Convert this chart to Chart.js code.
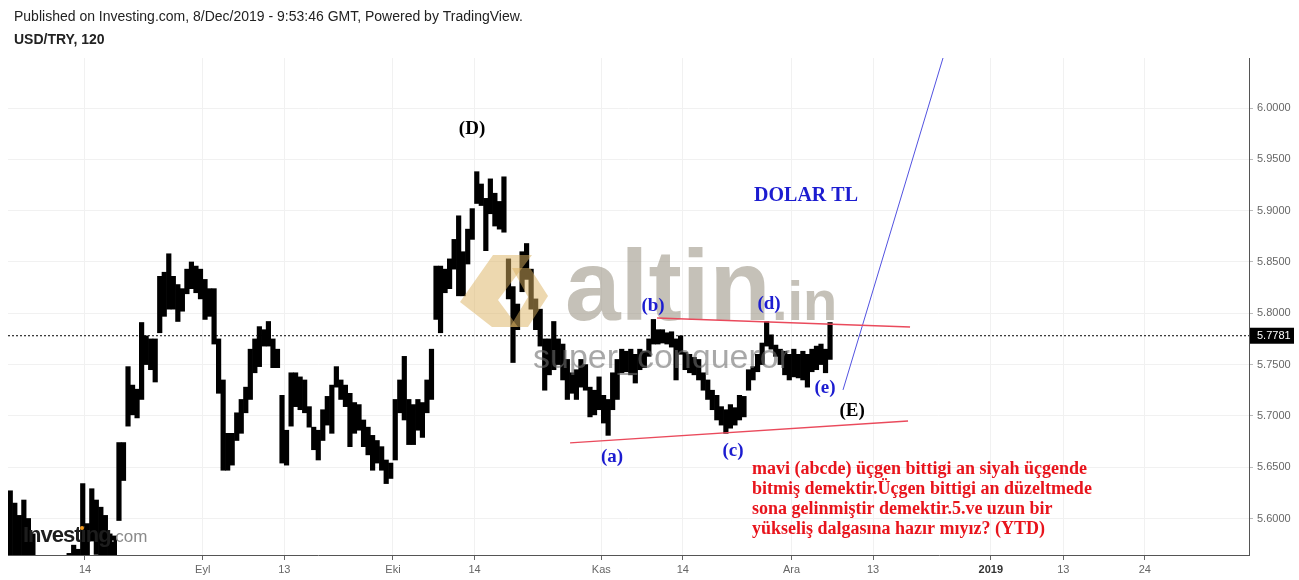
<!DOCTYPE html>
<html lang="tr">
<head>
<meta charset="UTF-8">
<title>USD/TRY, 120</title>
<script src="https://cdn.jsdelivr.net/npm/chart.js"></script>
<style>
  html, body { margin: 0; padding: 0; background: #fff; }
  #wrap { width: 1299px; height: 580px; position: relative; }
</style>
</head>
<body>
<div id="wrap"><canvas id="usdTry"></canvas></div>
<script>
// USD/TRY, 120 - price bars, one bar per half trading day
const lastClose = 5.7781;
const barStart = 0.75;   // trading-day index of the first bar (days counted from 1 Aug 2019)
const barStep = 0.5;

const barHighs = [
  5.627, 5.615, 5.603, 5.618, 5.600, 5.585, 5.558, 5.556, 5.554, 5.552,
  5.555, 5.557, 5.559, 5.566, 5.574, 5.570, 5.634, 5.595, 5.629, 5.618,
  5.611, 5.603, 5.585, 5.583, 5.674, 5.674, 5.748, 5.730, 5.726, 5.791,
  5.778, 5.775, 5.775, 5.836, 5.840, 5.858, 5.836, 5.828, 5.824, 5.843,
  5.850, 5.846, 5.843, 5.833, 5.824, 5.824, 5.775, 5.735, 5.683, 5.683,
  5.703, 5.716, 5.728, 5.765, 5.775, 5.787, 5.784, 5.792, 5.775, 5.765,
  5.720, 5.686, 5.742, 5.742, 5.738, 5.735, 5.709, 5.689, 5.686, 5.706,
  5.719, 5.730, 5.748, 5.735, 5.730, 5.722, 5.713, 5.711, 5.696, 5.689,
  5.681, 5.676, 5.670, 5.657, 5.654, 5.716, 5.735, 5.758, 5.716, 5.711,
  5.716, 5.713, 5.735, 5.765, 5.846, 5.846, 5.843, 5.853, 5.872, 5.895,
  5.860, 5.882, 5.902, 5.938, 5.926, 5.912, 5.931, 5.917, 5.909, 5.933,
  5.853, 5.826, 5.809, 5.860, 5.868, 5.843, 5.814, 5.804, 5.775, 5.775,
  5.792, 5.775, 5.770, 5.755, 5.742, 5.745, 5.755, 5.750, 5.728, 5.725,
  5.738, 5.720, 5.716, 5.742, 5.755, 5.765, 5.763, 5.765, 5.760, 5.765,
  5.763, 5.775, 5.794, 5.784, 5.784, 5.781, 5.782, 5.775, 5.778, 5.762,
  5.760, 5.757, 5.755, 5.742, 5.735, 5.725, 5.720, 5.709, 5.706, 5.711,
  5.708, 5.720, 5.719, 5.745, 5.748, 5.760, 5.771, 5.792, 5.779, 5.769,
  5.765, 5.763, 5.760, 5.765, 5.760, 5.763, 5.760, 5.765, 5.768, 5.770,
  5.765, 5.791
];
const barLows = [
  5.550, 5.550, 5.550, 5.550, 5.550, 5.550, 5.535, 5.532, 5.530, 5.528,
  5.530, 5.533, 5.536, 5.545, 5.550, 5.550, 5.550, 5.550, 5.578, 5.565,
  5.550, 5.550, 5.550, 5.550, 5.598, 5.637, 5.690, 5.701, 5.698, 5.716,
  5.750, 5.745, 5.733, 5.781, 5.797, 5.804, 5.804, 5.792, 5.802, 5.819,
  5.824, 5.820, 5.814, 5.794, 5.797, 5.770, 5.722, 5.647, 5.647, 5.652,
  5.676, 5.683, 5.703, 5.716, 5.742, 5.748, 5.768, 5.768, 5.747, 5.747,
  5.654, 5.652, 5.690, 5.709, 5.706, 5.703, 5.689, 5.667, 5.657, 5.676,
  5.691, 5.683, 5.728, 5.716, 5.709, 5.670, 5.683, 5.686, 5.670, 5.662,
  5.647, 5.654, 5.647, 5.634, 5.639, 5.657, 5.703, 5.696, 5.672, 5.672,
  5.686, 5.679, 5.703, 5.716, 5.794, 5.781, 5.820, 5.824, 5.843, 5.817,
  5.817, 5.848, 5.872, 5.907, 5.905, 5.861, 5.897, 5.885, 5.882, 5.879,
  5.814, 5.752, 5.784, 5.821, 5.833, 5.804, 5.784, 5.768, 5.725, 5.740,
  5.745, 5.750, 5.735, 5.716, 5.722, 5.716, 5.728, 5.725, 5.699, 5.701,
  5.706, 5.693, 5.681, 5.706, 5.716, 5.742, 5.743, 5.740, 5.732, 5.745,
  5.747, 5.758, 5.770, 5.770, 5.771, 5.770, 5.767, 5.735, 5.760, 5.745,
  5.742, 5.740, 5.735, 5.725, 5.716, 5.706, 5.696, 5.691, 5.683, 5.688,
  5.691, 5.696, 5.699, 5.725, 5.735, 5.743, 5.750, 5.768, 5.765, 5.758,
  5.750, 5.740, 5.735, 5.738, 5.737, 5.735, 5.728, 5.743, 5.745, 5.750,
  5.742, 5.755
];

const tickDates = ['2019-08-14', '2019-09-02', '2019-09-13', '2019-10-01', '2019-10-14', '2019-11-01',
                   '2019-11-14', '2019-12-02', '2019-12-13', '2020-01-01', '2020-01-13', '2020-01-24'];
const tickLabels = ['14', 'Eyl', '13', 'Eki', '14', 'Kas', '14', 'Ara', '13', '2019', '13', '24'];
const priceTicks = [5.60, 5.65, 5.70, 5.75, 5.80, 5.85, 5.90, 5.95, 6.00];

// drawings on the chart: [trading-day index, price]
const upperLine = [[72.15, 5.7954], [100.08, 5.7866]];
const lowerLine = [[62.55, 5.6736], [99.86, 5.6950]];
const blueLine = [[92.68, 5.7253], [103.72, 6.0488]];

const waveLabels = [
  { text: '(D)', x: 51.73, y: 5.9796, color: '#000000' },
  { text: 'DOLAR TL', x: 88.6, y: 5.9143, color: '#1c1cd0' },
  { text: '(a)', x: 67.18, y: 5.6600, color: '#1c1cd0' },
  { text: '(b)', x: 71.71, y: 5.8071, color: '#1c1cd0' },
  { text: '(c)', x: 80.54, y: 5.6658, color: '#1c1cd0' },
  { text: '(d)', x: 84.52, y: 5.8091, color: '#1c1cd0' },
  { text: '(e)', x: 90.70, y: 5.7272, color: '#1c1cd0' },
  { text: '(E)', x: 93.68, y: 5.7048, color: '#000000' }
];
const noteAnchor = { x: 82.64, y: 5.6482 };
const noteLines = [
  'mavi (abcde) üçgen bittigi an siyah üçgende',
  'bitmiş demektir.Üçgen bittigi an düzeltmede',
  'sona gelinmiştir demektir.5.ve uzun bir',
  'yükseliş dalgasına hazır mıyız? (YTD)'
];

const xMin = 0.5, xMax = 137.5;
const yMin = 5.5644, yMax = 6.0488;

function tradingDay(iso) {
  const start = Date.UTC(2019, 7, 1);
  const end = Date.parse(iso + 'T00:00:00Z');
  let n = 0;
  for (let d = start; d < end; d += 86400000) {
    const wd = new Date(d).getUTCDay();
    if (wd !== 0 && wd !== 6) n++;
  }
  return n;
}
const tickIdx = tickDates.map(tradingDay);

const bars = barHighs.map((h, i) => ({ x: barStart + i * barStep, y: [barLows[i], h] }));
const toPts = arr => arr.map(p => ({ x: p[0], y: p[1] }));

const SANS = '"Liberation Sans", Arial, sans-serif';
const SERIF = '"Liberation Serif", "Times New Roman", serif';

const overlay = {
  id: 'overlay',
  beforeDraw(chart) {
    const ctx = chart.ctx;
    ctx.save();
    ctx.fillStyle = '#222';
    ctx.textBaseline = 'middle';
    ctx.font = '14px ' + SANS;
    ctx.fillText('Published on Investing.com, 8/Dec/2019 - 9:53:46 GMT, Powered by TradingView.', 14, 17);
    ctx.font = 'bold 14px ' + SANS;
    ctx.fillText('USD/TRY, 120', 14, 40);
    ctx.restore();
  },
  afterDatasetDraw(chart, args) {
    if (args.index !== 0) return;
    // watermark, drawn over the price bars and under the drawn lines
    const ctx = chart.ctx;
    const a = chart.chartArea;
    ctx.save();
    ctx.beginPath();
    ctx.rect(a.left, a.top, a.right - a.left, a.bottom - a.top);
    ctx.clip();
    ctx.fillStyle = 'rgba(220,178,95,0.5)';
    ctx.beginPath();
    ctx.moveTo(460, 302); ctx.lineTo(493, 255); ctx.lineTo(532, 255);
    ctx.lineTo(498, 300); ctx.lineTo(518, 327); ctx.lineTo(492, 327);
    ctx.closePath(); ctx.fill();
    ctx.beginPath();
    ctx.moveTo(512, 268); ctx.lineTo(530, 268); ctx.lineTo(548, 296);
    ctx.lineTo(528, 327); ctx.lineTo(510, 327); ctx.lineTo(528, 297);
    ctx.closePath(); ctx.fill();
    ctx.fillStyle = 'rgba(150,142,125,0.55)';
    ctx.textBaseline = 'alphabetic';
    ctx.font = 'bold 100px ' + SANS;
    ctx.fillText('altin', 565, 320);
    ctx.font = 'bold 56px ' + SANS;
    ctx.fillText('.in', 772, 320);
    ctx.fillStyle = 'rgba(110,110,110,0.6)';
    ctx.font = '34px ' + SANS;
    ctx.fillText('super_conqueror', 533, 368);
    ctx.restore();
  },
  afterDraw(chart) {
    const ctx = chart.ctx;
    const a = chart.chartArea;
    const xs = chart.scales.x, ys = chart.scales.y;
    ctx.save();
    // investing.com logo
    ctx.textBaseline = 'alphabetic';
    ctx.fillStyle = '#1d1d1d';
    ctx.font = 'bold 22px ' + SANS;
    if ('letterSpacing' in ctx) ctx.letterSpacing = '-1px';
    ctx.fillText('Investing', 23, 542);
    const w = ctx.measureText('Investing').width;
    if ('letterSpacing' in ctx) ctx.letterSpacing = '0px';
    ctx.fillStyle = '#8a8a8a';
    ctx.font = '17px ' + SANS;
    ctx.fillText('.com', 23 + w, 542);
    ctx.fillStyle = '#f29a1e';
    ctx.beginPath(); ctx.arc(82, 528, 2, 0, Math.PI * 2); ctx.fill();

    // wave labels
    ctx.textAlign = 'center';
    ctx.textBaseline = 'middle';
    waveLabels.forEach(l => {
      ctx.fillStyle = l.color;
      ctx.font = (l.text === 'DOLAR TL' ? 'bold 20px ' : 'bold 19px ') + SERIF;
      ctx.fillText(l.text, xs.getPixelForValue(l.x), ys.getPixelForValue(l.y));
    });
    // comment text
    ctx.textAlign = 'left';
    ctx.fillStyle = '#e8141c';
    ctx.font = 'bold 18px ' + SERIF;
    const nx = xs.getPixelForValue(noteAnchor.x);
    const ny = ys.getPixelForValue(noteAnchor.y);
    noteLines.forEach((t, i) => ctx.fillText(t, nx, ny + i * 20));

    // last price tag on the axis
    const py = ys.getPixelForValue(lastClose);
    ctx.fillStyle = '#000';
    ctx.fillRect(a.right + 1, py - 8, 44, 16);
    ctx.fillStyle = '#fff';
    ctx.font = '11px ' + SANS;
    ctx.fillText(lastClose.toFixed(4), a.right + 8, py + 0.5);
    ctx.restore();
  }
};

new Chart(document.getElementById('usdTry'), {
  data: {
    datasets: [
      { type: 'bar', data: bars, backgroundColor: '#000', borderWidth: 0,
        barPercentage: 1, categoryPercentage: 1, order: 1 },
      { type: 'line', data: [{ x: xMin, y: lastClose }, { x: xMax, y: lastClose }],
        borderColor: '#000', borderWidth: 1, borderDash: [2, 2], pointRadius: 0, order: 0 },
      { type: 'line', data: toPts(upperLine), borderColor: '#ea4a5c', borderWidth: 1.3, pointRadius: 0, order: 0 },
      { type: 'line', data: toPts(lowerLine), borderColor: '#ea4a5c', borderWidth: 1.3, pointRadius: 0, order: 0 },
      { type: 'line', data: toPts(blueLine), borderColor: '#5252e0', borderWidth: 1, pointRadius: 0, order: 0 }
    ]
  },
  options: {
    responsive: true,
    maintainAspectRatio: false,
    animation: false,
    layout: { padding: { top: 58, left: 8, right: 0, bottom: 0 } },
    plugins: { legend: { display: false }, tooltip: { enabled: false } },
    scales: {
      x: {
        type: 'linear', min: xMin, max: xMax, offset: false,
        grid: { color: '#f1f1f1', offset: false, tickLength: 5, tickColor: '#666' },
        border: { color: '#555', width: 1 },
        afterBuildTicks: axis => { axis.ticks = tickIdx.map(v => ({ value: v })); },
        afterFit: axis => { axis.height = 25; },
        ticks: {
          autoSkip: false, maxRotation: 0, padding: 3,
          color: ctx => (tickLabels[ctx.index] === '2019' ? '#333' : '#666'),
          font: ctx => ({ family: SANS, size: 11, weight: tickLabels[ctx.index] === '2019' ? 'bold' : 'normal' }),
          callback: (v, i) => tickLabels[i]
        }
      },
      y: {
        position: 'right', min: yMin, max: yMax,
        grid: { color: '#f1f1f1', tickLength: 4, tickColor: '#bbb' },
        border: { color: '#555', width: 1 },
        afterBuildTicks: axis => { axis.ticks = priceTicks.map(v => ({ value: v })); },
        afterFit: axis => { axis.width = 50; },
        ticks: { padding: 4, color: '#666', font: { family: SANS, size: 11 }, callback: v => v.toFixed(4) }
      }
    }
  },
  plugins: [overlay]
});
</script>
</body>
</html>
